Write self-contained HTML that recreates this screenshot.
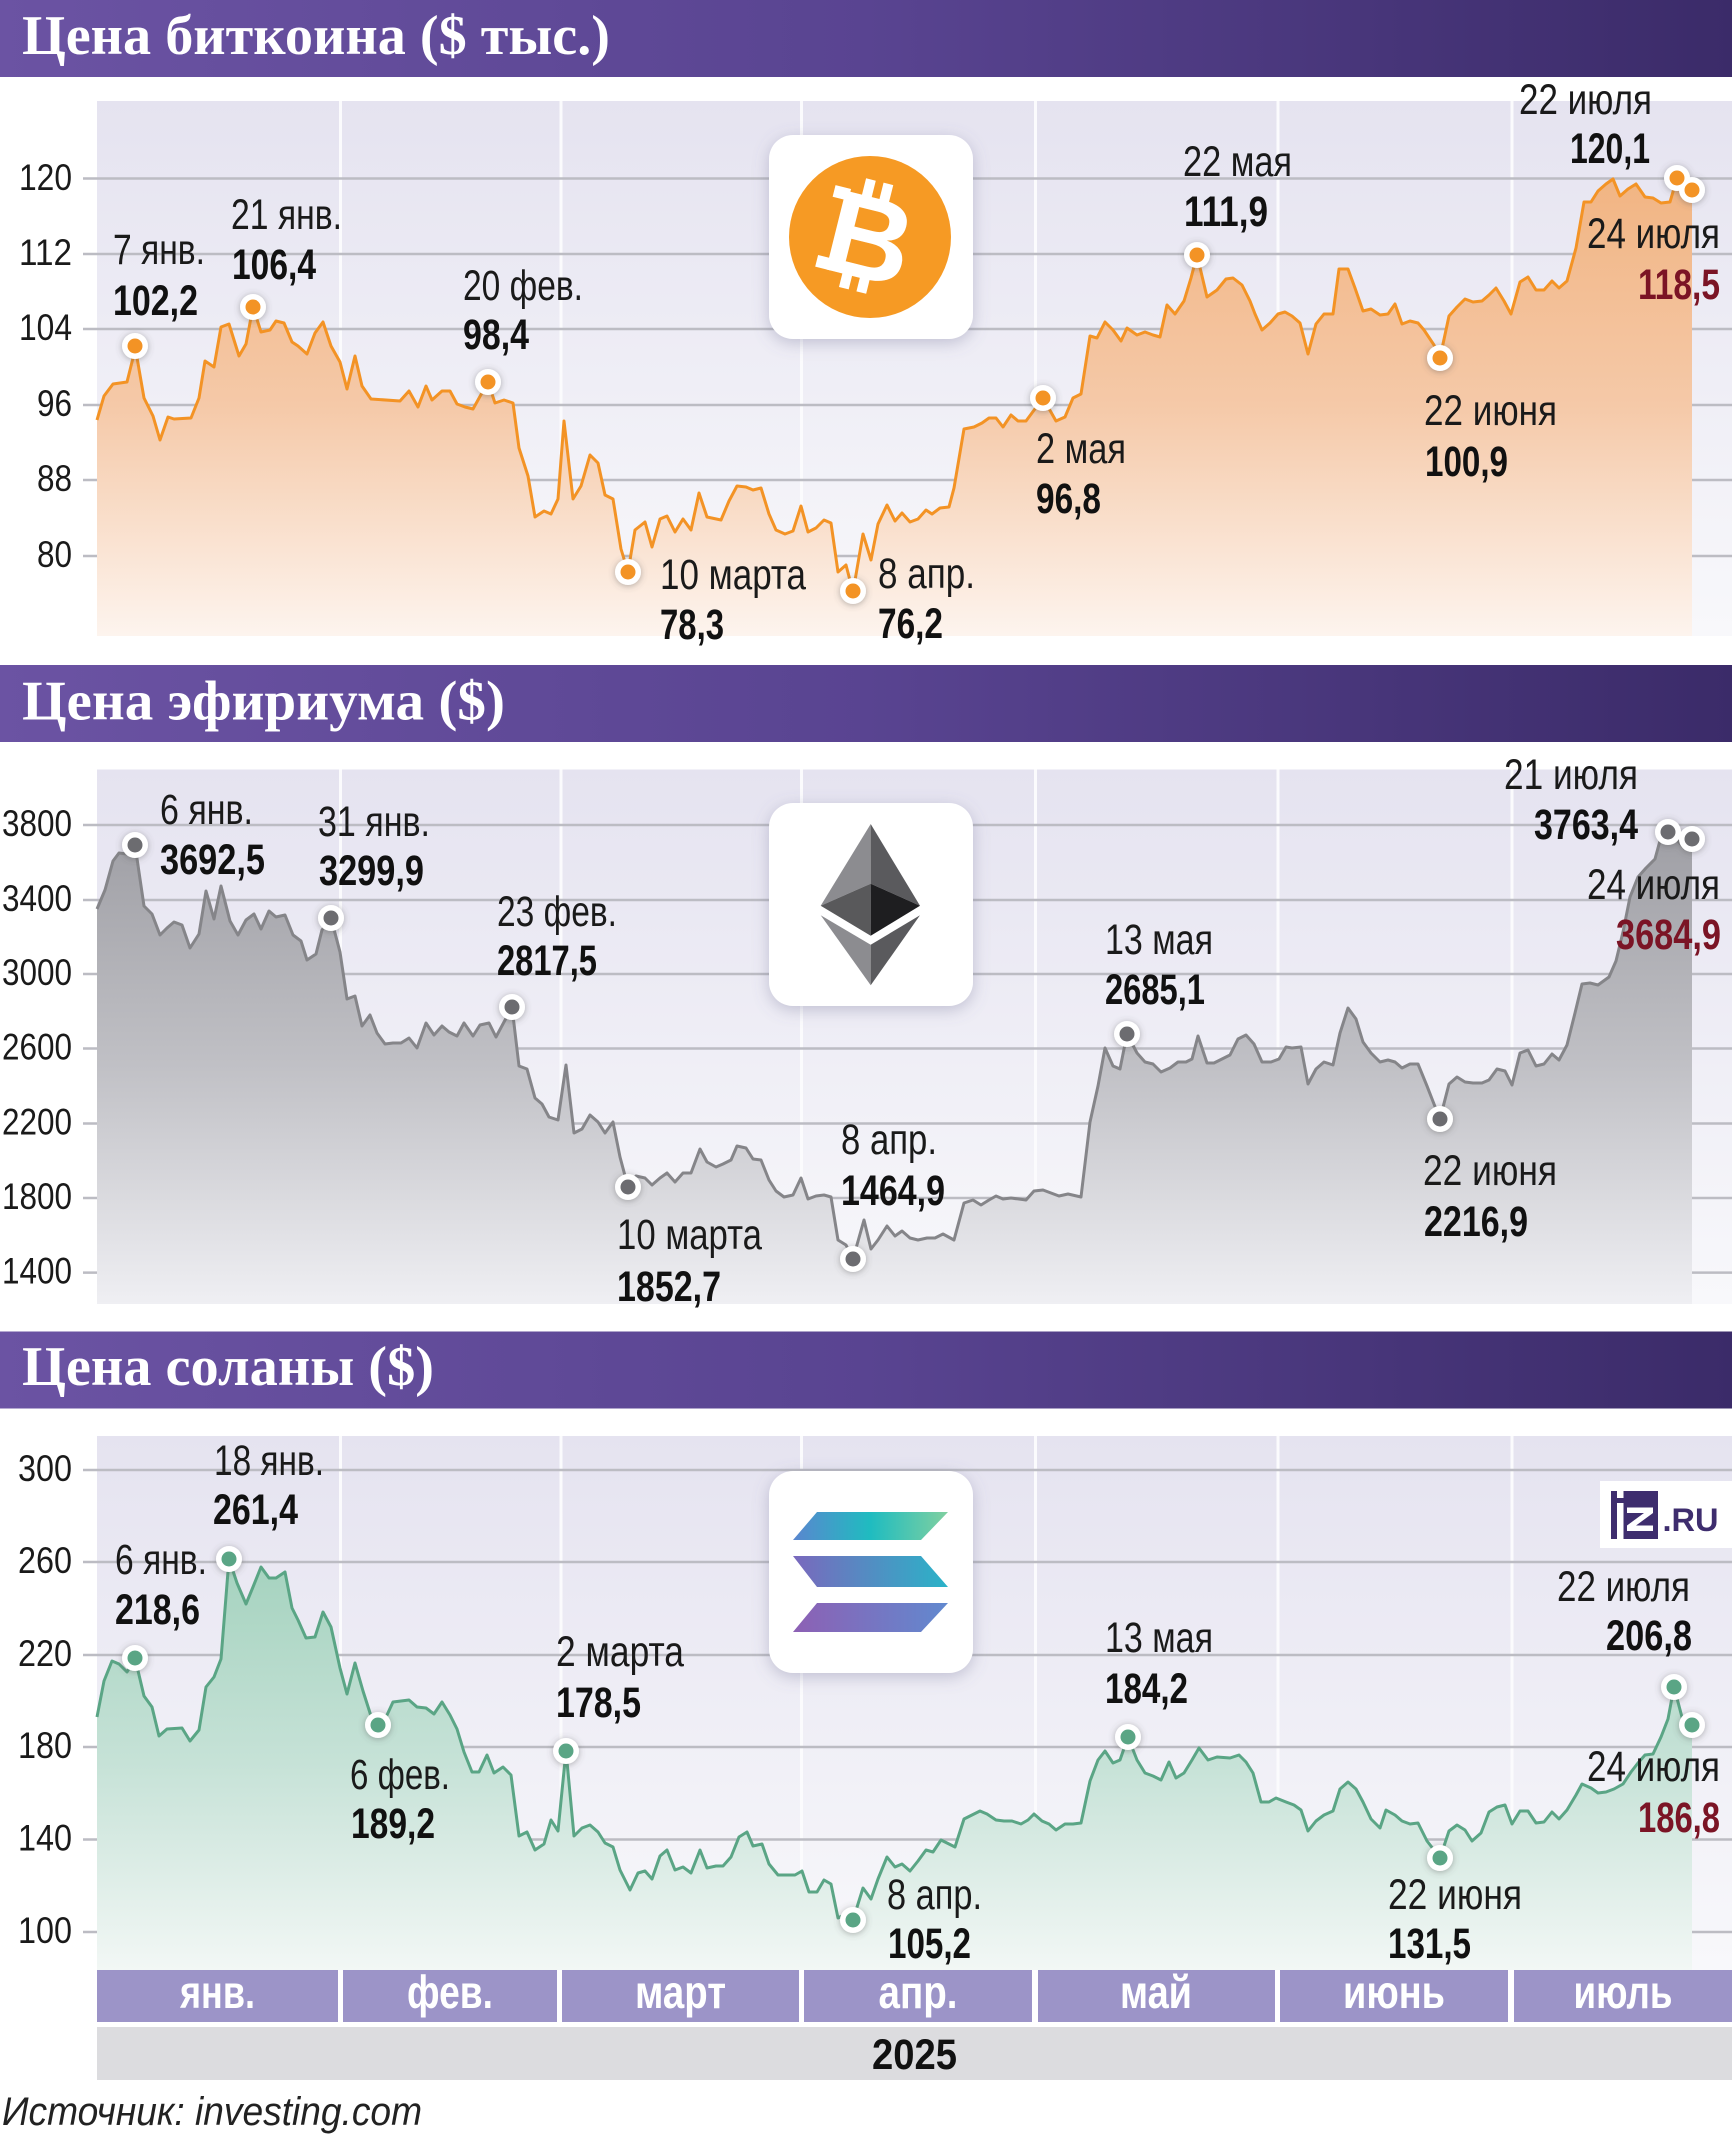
<!DOCTYPE html>
<html><head><meta charset="utf-8">
<style>
html,body{margin:0;padding:0;background:#fff;}
svg{display:block;}
.t{font-family:"Liberation Serif",serif;font-weight:bold;font-size:56px;fill:#fff;}
.l{font-family:"Liberation Sans Narrow","Liberation Sans",sans-serif;font-size:43px;fill:#1a1a1a;}
.v{font-family:"Liberation Sans Narrow","Liberation Sans",sans-serif;font-size:43px;font-weight:bold;fill:#111;}
.r{fill:#7b1425;}
.y{font-family:"Liberation Sans Narrow","Liberation Sans",sans-serif;font-size:37px;fill:#1a1a1a;}
.m{font-family:"Liberation Sans Narrow","Liberation Sans",sans-serif;font-size:46px;font-weight:bold;fill:#fff;}
.g{stroke:#bcbcc3;stroke-width:2.5;}
.w{stroke:#fbfbfd;stroke-width:3;}
</style></head>
<body>
<svg width="1732" height="2137" viewBox="0 0 1732 2137" xmlns="http://www.w3.org/2000/svg">
<defs>
<linearGradient id="hdr" x1="0" y1="0" x2="1" y2="0">
<stop offset="0" stop-color="#6b53a3"/><stop offset="0.5" stop-color="#594491"/><stop offset="1" stop-color="#3b2b69"/>
</linearGradient>
<linearGradient id="bg" x1="0" y1="0" x2="0" y2="1">
<stop offset="0" stop-color="#e5e3f0"/><stop offset="1" stop-color="#f8f8fb"/>
</linearGradient>
<linearGradient id="fb" gradientUnits="userSpaceOnUse" x1="0" y1="175" x2="0" y2="636">
<stop offset="0" stop-color="#f1b482"/><stop offset="0.5" stop-color="#f5c9a8"/><stop offset="1" stop-color="#fdf4ee"/>
</linearGradient>
<linearGradient id="fe" gradientUnits="userSpaceOnUse" x1="0" y1="825" x2="0" y2="1304">
<stop offset="0" stop-color="#9e9ea4"/><stop offset="0.5" stop-color="#c0c0c5"/><stop offset="1" stop-color="#efeff3"/>
</linearGradient>
<linearGradient id="fs" gradientUnits="userSpaceOnUse" x1="0" y1="1555" x2="0" y2="1970">
<stop offset="0" stop-color="#a4d2be"/><stop offset="0.5" stop-color="#c6e2d7"/><stop offset="1" stop-color="#f2f7f5"/>
</linearGradient>
<linearGradient id="s1" gradientUnits="userSpaceOnUse" x1="793" y1="0" x2="948" y2="0">
<stop offset="0" stop-color="#5a86cf"/><stop offset="0.5" stop-color="#1fbcc0"/><stop offset="1" stop-color="#80d0a0"/>
</linearGradient>
<linearGradient id="s2" gradientUnits="userSpaceOnUse" x1="793" y1="0" x2="948" y2="0">
<stop offset="0" stop-color="#7a68bd"/><stop offset="1" stop-color="#2ab3c8"/>
</linearGradient>
<linearGradient id="s3" gradientUnits="userSpaceOnUse" x1="793" y1="0" x2="948" y2="0">
<stop offset="0" stop-color="#8d60b4"/><stop offset="1" stop-color="#6189cf"/>
</linearGradient>
<filter id="sh" x="-20%" y="-20%" width="140%" height="140%">
<feDropShadow dx="0" dy="4" stdDeviation="8" flood-color="#6a6a90" flood-opacity="0.35"/>
</filter>
<filter id="ms" x="-60%" y="-60%" width="220%" height="220%">
<feDropShadow dx="0" dy="1" stdDeviation="3.5" flood-color="#555" flood-opacity="0.45"/>
</filter>
</defs>

<!-- ================= BITCOIN ================= -->
<rect x="0" y="0" width="1732" height="77" fill="url(#hdr)"/>
<text class="t" x="22" y="54" textLength="588" lengthAdjust="spacingAndGlyphs">Цена биткоина ($ тыс.)</text>
<rect x="97" y="101" width="1635" height="535" fill="url(#bg)"/>
<g class="w">
<line x1="340.5" y1="101" x2="340.5" y2="636"/><line x1="561" y1="101" x2="561" y2="636"/><line x1="801.5" y1="101" x2="801.5" y2="636"/>
<line x1="1035.5" y1="101" x2="1035.5" y2="636"/><line x1="1278" y1="101" x2="1278" y2="636"/><line x1="1512" y1="101" x2="1512" y2="636"/>
</g>
<g class="g">
<line x1="83" y1="178.5" x2="1732" y2="178.5"/><line x1="83" y1="254" x2="1732" y2="254"/><line x1="83" y1="329" x2="1732" y2="329"/>
<line x1="83" y1="405" x2="1732" y2="405"/><line x1="83" y1="480" x2="1732" y2="480"/><line x1="83" y1="556" x2="1732" y2="556"/>
</g>
<g class="y" text-anchor="end">
<text x="72" y="190" textLength="53" lengthAdjust="spacingAndGlyphs">120</text>
<text x="72" y="265" textLength="53" lengthAdjust="spacingAndGlyphs">112</text>
<text x="72" y="340" textLength="53" lengthAdjust="spacingAndGlyphs">104</text>
<text x="72" y="416" textLength="35" lengthAdjust="spacingAndGlyphs">96</text>
<text x="72" y="491" textLength="35" lengthAdjust="spacingAndGlyphs">88</text>
<text x="72" y="567" textLength="35" lengthAdjust="spacingAndGlyphs">80</text>
</g>
<path fill="url(#fb)" d="M97,636 L97,420 104,396 113,384 127,382 133,358 135,346 144,398 153,416 160,440 168,417 174,419 191,418 199,398 205,361 214,367 221,327 229,324 239,356 246,344 253,307 261,332 270,330 276,321 284,323 292,342 298,346 307,354 315,333 323,322 331,346 340,362 347,389 355,356 362,386 371,399 400,401 409,391 418,407 426,386 432,400 442,391 450,391 457,404 465,407 473,409 488,382 495,403 504,400 513,403 519,448 528,476 535,517 544,511 551,514 558,499 564,421 573,499 581,486 590,455 598,463 605,495 613,499 621,549 628,572 635,530 645,522 652,547 660,519 667,516 675,532 683,519 691,530 699,493 707,517 721,520 729,501 737,486 746,487 753,490 761,488 769,514 776,530 785,534 793,531 801,506 808,532 816,528 824,520 831,523 838,572 846,565 853,592 863,534 871,560 878,524 887,505 895,521 902,513 910,522 918,519 926,510 932,514 940,508 949,507 954,488 964,429 974,427 982,423 989,418 996,418 1003,427 1011,415 1018,421 1026,421 1043,398 1056,421 1065,417 1073,398 1081,394 1090,336 1097,338 1105,322 1113,330 1121,341 1127,328 1137,335 1145,332 1153,335 1160,337 1167,305 1175,314 1184,301 1191,278 1197,255 1207,297 1217,290 1226,279 1233,278 1242,285 1250,301 1255,314 1262,330 1270,323 1278,314 1285,312 1292,316 1300,323 1308,354 1316,324 1324,314 1333,314 1339,269 1348,269 1355,288 1363,311 1371,309 1380,315 1388,314 1395,304 1402,324 1410,321 1418,323 1424,330 1434,345 1440,358 1449,316 1457,307 1465,299 1473,302 1482,301 1489,295 1496,288 1504,301 1511,314 1520,282 1528,277 1536,290 1544,290 1552,281 1559,288 1567,281 1576,248 1584,202 1591,202 1598,191 1606,184 1613,179 1620,196 1628,189 1636,184 1645,197 1653,198 1661,203 1670,202 1677,178 1684,194 1692,190 L1692,636 Z"/>
<polyline fill="none" stroke="#f39325" stroke-width="3" stroke-linejoin="round" points="97,420 104,396 113,384 127,382 133,358 135,346 144,398 153,416 160,440 168,417 174,419 191,418 199,398 205,361 214,367 221,327 229,324 239,356 246,344 253,307 261,332 270,330 276,321 284,323 292,342 298,346 307,354 315,333 323,322 331,346 340,362 347,389 355,356 362,386 371,399 400,401 409,391 418,407 426,386 432,400 442,391 450,391 457,404 465,407 473,409 488,382 495,403 504,400 513,403 519,448 528,476 535,517 544,511 551,514 558,499 564,421 573,499 581,486 590,455 598,463 605,495 613,499 621,549 628,572 635,530 645,522 652,547 660,519 667,516 675,532 683,519 691,530 699,493 707,517 721,520 729,501 737,486 746,487 753,490 761,488 769,514 776,530 785,534 793,531 801,506 808,532 816,528 824,520 831,523 838,572 846,565 853,592 863,534 871,560 878,524 887,505 895,521 902,513 910,522 918,519 926,510 932,514 940,508 949,507 954,488 964,429 974,427 982,423 989,418 996,418 1003,427 1011,415 1018,421 1026,421 1043,398 1056,421 1065,417 1073,398 1081,394 1090,336 1097,338 1105,322 1113,330 1121,341 1127,328 1137,335 1145,332 1153,335 1160,337 1167,305 1175,314 1184,301 1191,278 1197,255 1207,297 1217,290 1226,279 1233,278 1242,285 1250,301 1255,314 1262,330 1270,323 1278,314 1285,312 1292,316 1300,323 1308,354 1316,324 1324,314 1333,314 1339,269 1348,269 1355,288 1363,311 1371,309 1380,315 1388,314 1395,304 1402,324 1410,321 1418,323 1424,330 1434,345 1440,358 1449,316 1457,307 1465,299 1473,302 1482,301 1489,295 1496,288 1504,301 1511,314 1520,282 1528,277 1536,290 1544,290 1552,281 1559,288 1567,281 1576,248 1584,202 1591,202 1598,191 1606,184 1613,179 1620,196 1628,189 1636,184 1645,197 1653,198 1661,203 1670,202 1677,178 1684,194 1692,190"/>
<!-- BTC logo -->
<rect x="769" y="135" width="204" height="204" rx="24" fill="#fff" filter="url(#sh)"/>
<circle cx="870" cy="237" r="81" fill="#f69a24"/>
<g transform="translate(870,237) rotate(14)" fill="#fff">
<rect x="-18" y="-56" width="10" height="18"/><rect x="0" y="-56" width="10" height="18"/>
<rect x="-18" y="38" width="10" height="18"/><rect x="0" y="38" width="10" height="18"/>
<rect x="-46" y="-42" width="16" height="12"/><rect x="-46" y="30" width="16" height="12"/>
<text x="0" y="42" font-family="Liberation Sans,sans-serif" font-weight="bold" font-size="118" text-anchor="middle">B</text>
</g>
<!-- BTC markers -->
<g filter="url(#ms)" fill="#fff">
<circle cx="135" cy="346" r="13"/><circle cx="253" cy="307" r="13"/><circle cx="488" cy="382" r="13"/><circle cx="628" cy="572" r="13"/><circle cx="853" cy="591" r="13"/><circle cx="1043" cy="398" r="13"/><circle cx="1197" cy="255" r="13"/><circle cx="1440" cy="358" r="13"/><circle cx="1677" cy="178" r="13"/><circle cx="1692" cy="190" r="13"/>
</g>
<g fill="#f39325">
<circle cx="135" cy="346" r="7.5"/><circle cx="253" cy="307" r="7.5"/><circle cx="488" cy="382" r="7.5"/><circle cx="628" cy="572" r="7.5"/><circle cx="853" cy="591" r="7.5"/><circle cx="1043" cy="398" r="7.5"/><circle cx="1197" cy="255" r="7.5"/><circle cx="1440" cy="358" r="7.5"/><circle cx="1677" cy="178" r="7.5"/><circle cx="1692" cy="190" r="7.5"/>
</g>
<!-- BTC labels -->
<text class="l" x="113" y="264" textLength="92" lengthAdjust="spacingAndGlyphs">7 янв.</text>
<text class="v" x="113" y="315" textLength="85" lengthAdjust="spacingAndGlyphs">102,2</text>
<text class="l" x="231" y="229" textLength="111" lengthAdjust="spacingAndGlyphs">21 янв.</text>
<text class="v" x="232" y="279" textLength="84" lengthAdjust="spacingAndGlyphs">106,4</text>
<text class="l" x="463" y="300" textLength="120" lengthAdjust="spacingAndGlyphs">20 фев.</text>
<text class="v" x="463" y="349" textLength="66" lengthAdjust="spacingAndGlyphs">98,4</text>
<text class="l" x="660" y="589" textLength="146" lengthAdjust="spacingAndGlyphs">10 марта</text>
<text class="v" x="660" y="639" textLength="64" lengthAdjust="spacingAndGlyphs">78,3</text>
<text class="l" x="878" y="588" textLength="97" lengthAdjust="spacingAndGlyphs">8 апр.</text>
<text class="v" x="878" y="638" textLength="65" lengthAdjust="spacingAndGlyphs">76,2</text>
<text class="l" x="1036" y="463" textLength="90" lengthAdjust="spacingAndGlyphs">2 мая</text>
<text class="v" x="1036" y="513" textLength="65" lengthAdjust="spacingAndGlyphs">96,8</text>
<text class="l" x="1183" y="176" textLength="109" lengthAdjust="spacingAndGlyphs">22 мая</text>
<text class="v" x="1184" y="226" textLength="84" lengthAdjust="spacingAndGlyphs">111,9</text>
<text class="l" x="1424" y="425" textLength="133" lengthAdjust="spacingAndGlyphs">22 июня</text>
<text class="v" x="1425" y="476" textLength="83" lengthAdjust="spacingAndGlyphs">100,9</text>
<text class="l" x="1519" y="114" textLength="133" lengthAdjust="spacingAndGlyphs">22 июля</text>
<text class="v" x="1570" y="163" textLength="80" lengthAdjust="spacingAndGlyphs">120,1</text>
<text class="l" x="1587" y="248" textLength="133" lengthAdjust="spacingAndGlyphs">24 июля</text>
<text class="v r" x="1638" y="299" textLength="82" lengthAdjust="spacingAndGlyphs">118,5</text>

<!-- ================= ETHEREUM ================= -->
<rect x="0" y="665" width="1732" height="77" fill="url(#hdr)"/>
<text class="t" x="22" y="719.5" textLength="483" lengthAdjust="spacingAndGlyphs">Цена эфириума ($)</text>
<rect x="97" y="769.5" width="1635" height="534.5" fill="url(#bg)"/>
<g class="w">
<line x1="340.5" y1="769.5" x2="340.5" y2="1304"/><line x1="561" y1="769.5" x2="561" y2="1304"/><line x1="801.5" y1="769.5" x2="801.5" y2="1304"/>
<line x1="1035.5" y1="769.5" x2="1035.5" y2="1304"/><line x1="1278" y1="769.5" x2="1278" y2="1304"/><line x1="1512" y1="769.5" x2="1512" y2="1304"/>
</g>
<g class="g">
<line x1="83" y1="825" x2="1732" y2="825"/><line x1="83" y1="900" x2="1732" y2="900"/><line x1="83" y1="974" x2="1732" y2="974"/>
<line x1="83" y1="1048.5" x2="1732" y2="1048.5"/><line x1="83" y1="1123.5" x2="1732" y2="1123.5"/><line x1="83" y1="1198" x2="1732" y2="1198"/><line x1="83" y1="1272.6" x2="1732" y2="1272.6"/>
</g>
<g class="y" text-anchor="end">
<text x="72" y="836" textLength="70" lengthAdjust="spacingAndGlyphs">3800</text>
<text x="72" y="911" textLength="70" lengthAdjust="spacingAndGlyphs">3400</text>
<text x="72" y="985" textLength="70" lengthAdjust="spacingAndGlyphs">3000</text>
<text x="72" y="1059.5" textLength="70" lengthAdjust="spacingAndGlyphs">2600</text>
<text x="72" y="1134.5" textLength="70" lengthAdjust="spacingAndGlyphs">2200</text>
<text x="72" y="1209" textLength="70" lengthAdjust="spacingAndGlyphs">1800</text>
<text x="72" y="1283.6" textLength="70" lengthAdjust="spacingAndGlyphs">1400</text>
</g>
<path fill="url(#fe)" d="M97,1304 L97,909 105,890 113,861 119,853 127,854 135,845 144,906 152,914 160,935 167,928 174,922 182,925 190,948 199,934 206,891 214,919 221,886 230,921 238,935 246,920 254,914 261,929 269,911 276,917 285,915 293,935 301,941 307,960 316,954 322,930 331,918 340,952 347,999 355,996 362,1026 370,1015 377,1033 385,1044 393,1043 401,1043 409,1038 417,1048 426,1023 434,1035 442,1026 449,1032 457,1036 464,1023 473,1036 480,1025 489,1023 496,1037 512,1007 519,1066 527,1069 535,1098 542,1104 549,1117 558,1120 566,1065 574,1133 582,1129 590,1115 598,1122 605,1133 613,1122 620,1157 628,1187 636,1176 645,1178 652,1185 660,1178 667,1173 675,1182 683,1173 691,1173 700,1149 707,1162 716,1167 723,1164 731,1160 737,1146 746,1148 753,1159 761,1160 769,1180 776,1191 784,1197 793,1195 801,1178 808,1199 816,1196 824,1195 831,1197 838,1240 846,1245 853,1259 864,1220 871,1249 878,1240 887,1226 895,1236 902,1231 910,1238 918,1240 927,1238 935,1238 943,1234 954,1240 964,1203 973,1200 981,1205 989,1200 996,1196 1003,1199 1011,1198 1026,1200 1034,1191 1043,1190 1051,1193 1059,1196 1068,1194 1081,1197 1090,1122 1098,1086 1105,1048 1113,1066 1120,1069 1127,1034 1137,1053 1145,1062 1153,1064 1161,1072 1170,1068 1178,1062 1186,1062 1192,1059 1198,1036 1207,1063 1214,1063 1222,1059 1230,1055 1238,1039 1246,1035 1254,1044 1262,1062 1271,1062 1279,1059 1286,1047 1292,1048 1301,1047 1308,1084 1316,1069 1324,1062 1333,1065 1340,1033 1348,1008 1356,1019 1363,1042 1371,1053 1380,1062 1388,1060 1395,1062 1402,1068 1410,1064 1418,1064 1427,1086 1434,1104 1440,1119 1449,1084 1457,1077 1465,1082 1473,1083 1482,1083 1489,1080 1497,1069 1505,1071 1512,1085 1520,1053 1528,1050 1536,1066 1544,1064 1552,1054 1559,1060 1567,1045 1575,1013 1582,984 1590,983 1598,985 1609,977 1616,961 1623,932 1630,897 1638,877 1646,868 1655,859 1661,837 1668,832 1677,840 1684,848 1692,839 L1692,1304 Z"/>
<polyline fill="none" stroke="#858589" stroke-width="3" stroke-linejoin="round" points="97,909 105,890 113,861 119,853 127,854 135,845 144,906 152,914 160,935 167,928 174,922 182,925 190,948 199,934 206,891 214,919 221,886 230,921 238,935 246,920 254,914 261,929 269,911 276,917 285,915 293,935 301,941 307,960 316,954 322,930 331,918 340,952 347,999 355,996 362,1026 370,1015 377,1033 385,1044 393,1043 401,1043 409,1038 417,1048 426,1023 434,1035 442,1026 449,1032 457,1036 464,1023 473,1036 480,1025 489,1023 496,1037 512,1007 519,1066 527,1069 535,1098 542,1104 549,1117 558,1120 566,1065 574,1133 582,1129 590,1115 598,1122 605,1133 613,1122 620,1157 628,1187 636,1176 645,1178 652,1185 660,1178 667,1173 675,1182 683,1173 691,1173 700,1149 707,1162 716,1167 723,1164 731,1160 737,1146 746,1148 753,1159 761,1160 769,1180 776,1191 784,1197 793,1195 801,1178 808,1199 816,1196 824,1195 831,1197 838,1240 846,1245 853,1259 864,1220 871,1249 878,1240 887,1226 895,1236 902,1231 910,1238 918,1240 927,1238 935,1238 943,1234 954,1240 964,1203 973,1200 981,1205 989,1200 996,1196 1003,1199 1011,1198 1026,1200 1034,1191 1043,1190 1051,1193 1059,1196 1068,1194 1081,1197 1090,1122 1098,1086 1105,1048 1113,1066 1120,1069 1127,1034 1137,1053 1145,1062 1153,1064 1161,1072 1170,1068 1178,1062 1186,1062 1192,1059 1198,1036 1207,1063 1214,1063 1222,1059 1230,1055 1238,1039 1246,1035 1254,1044 1262,1062 1271,1062 1279,1059 1286,1047 1292,1048 1301,1047 1308,1084 1316,1069 1324,1062 1333,1065 1340,1033 1348,1008 1356,1019 1363,1042 1371,1053 1380,1062 1388,1060 1395,1062 1402,1068 1410,1064 1418,1064 1427,1086 1434,1104 1440,1119 1449,1084 1457,1077 1465,1082 1473,1083 1482,1083 1489,1080 1497,1069 1505,1071 1512,1085 1520,1053 1528,1050 1536,1066 1544,1064 1552,1054 1559,1060 1567,1045 1575,1013 1582,984 1590,983 1598,985 1609,977 1616,961 1623,932 1630,897 1638,877 1646,868 1655,859 1661,837 1668,832 1677,840 1684,848 1692,839"/>
<!-- ETH logo -->
<rect x="769" y="803" width="204" height="203" rx="24" fill="#fff" filter="url(#sh)"/>
<polygon points="870.7,824 820.7,905.7 870.7,883.7" fill="#8c8c90"/>
<polygon points="870.7,824 920,905.7 870.7,883.7" fill="#5a5a5d"/>
<polygon points="820.7,905.7 870.7,883.7 870.7,935.7" fill="#59595b"/>
<polygon points="920,905.7 870.7,883.7 870.7,935.7" fill="#1e1e20"/>
<polygon points="820.7,915.3 870.7,944.7 870.7,985.3" fill="#8c8c90"/>
<polygon points="920,915.3 870.7,944.7 870.7,985.3" fill="#5a5a5d"/>
<!-- ETH markers -->
<g filter="url(#ms)" fill="#fff">
<circle cx="135" cy="845" r="13"/><circle cx="331" cy="918" r="13"/><circle cx="512" cy="1007" r="13"/><circle cx="628" cy="1187" r="13"/><circle cx="853" cy="1259" r="13"/><circle cx="1127" cy="1034" r="13"/><circle cx="1440" cy="1119" r="13"/><circle cx="1668" cy="832" r="13"/><circle cx="1692" cy="839" r="13"/>
</g>
<g fill="#6c6c70">
<circle cx="135" cy="845" r="7.5"/><circle cx="331" cy="918" r="7.5"/><circle cx="512" cy="1007" r="7.5"/><circle cx="628" cy="1187" r="7.5"/><circle cx="853" cy="1259" r="7.5"/><circle cx="1127" cy="1034" r="7.5"/><circle cx="1440" cy="1119" r="7.5"/><circle cx="1668" cy="832" r="7.5"/><circle cx="1692" cy="839" r="7.5"/>
</g>
<!-- ETH labels -->
<text class="l" x="160" y="824" textLength="93" lengthAdjust="spacingAndGlyphs">6 янв.</text>
<text class="v" x="160" y="874" textLength="105" lengthAdjust="spacingAndGlyphs">3692,5</text>
<text class="l" x="318" y="836" textLength="112" lengthAdjust="spacingAndGlyphs">31 янв.</text>
<text class="v" x="319" y="885" textLength="105" lengthAdjust="spacingAndGlyphs">3299,9</text>
<text class="l" x="497" y="926" textLength="120" lengthAdjust="spacingAndGlyphs">23 фев.</text>
<text class="v" x="497" y="975" textLength="100" lengthAdjust="spacingAndGlyphs">2817,5</text>
<text class="l" x="617" y="1249" textLength="145" lengthAdjust="spacingAndGlyphs">10 марта</text>
<text class="v" x="617" y="1301" textLength="104" lengthAdjust="spacingAndGlyphs">1852,7</text>
<text class="l" x="841" y="1154" textLength="96" lengthAdjust="spacingAndGlyphs">8 апр.</text>
<text class="v" x="841" y="1205" textLength="104" lengthAdjust="spacingAndGlyphs">1464,9</text>
<text class="l" x="1105" y="954" textLength="108" lengthAdjust="spacingAndGlyphs">13 мая</text>
<text class="v" x="1105" y="1004" textLength="100" lengthAdjust="spacingAndGlyphs">2685,1</text>
<text class="l" x="1423" y="1185" textLength="134" lengthAdjust="spacingAndGlyphs">22 июня</text>
<text class="v" x="1424" y="1236" textLength="104" lengthAdjust="spacingAndGlyphs">2216,9</text>
<text class="l" x="1504" y="789" textLength="134" lengthAdjust="spacingAndGlyphs">21 июля</text>
<text class="v" x="1534" y="839" textLength="104" lengthAdjust="spacingAndGlyphs">3763,4</text>
<text class="l" x="1587" y="899" textLength="133" lengthAdjust="spacingAndGlyphs">24 июля</text>
<text class="v r" x="1616" y="949" textLength="105" lengthAdjust="spacingAndGlyphs">3684,9</text>

<!-- ================= SOLANA ================= -->
<rect x="0" y="1331.5" width="1732" height="77" fill="url(#hdr)"/>
<text class="t" x="22" y="1385" textLength="412" lengthAdjust="spacingAndGlyphs">Цена соланы ($)</text>
<rect x="97" y="1436" width="1635" height="534" fill="url(#bg)"/>
<g class="w">
<line x1="340.5" y1="1436" x2="340.5" y2="1970"/><line x1="561" y1="1436" x2="561" y2="1970"/><line x1="801.5" y1="1436" x2="801.5" y2="1970"/>
<line x1="1035.5" y1="1436" x2="1035.5" y2="1970"/><line x1="1278" y1="1436" x2="1278" y2="1970"/><line x1="1512" y1="1436" x2="1512" y2="1970"/>
</g>
<g class="g">
<line x1="83" y1="1470" x2="1732" y2="1470"/><line x1="83" y1="1562" x2="1732" y2="1562"/><line x1="83" y1="1655" x2="1732" y2="1655"/>
<line x1="83" y1="1747" x2="1732" y2="1747"/><line x1="83" y1="1839.5" x2="1732" y2="1839.5"/><line x1="83" y1="1932" x2="1732" y2="1932"/>
</g>
<g class="y" text-anchor="end">
<text x="72" y="1481" textLength="54" lengthAdjust="spacingAndGlyphs">300</text>
<text x="72" y="1573" textLength="54" lengthAdjust="spacingAndGlyphs">260</text>
<text x="72" y="1666" textLength="54" lengthAdjust="spacingAndGlyphs">220</text>
<text x="72" y="1758" textLength="54" lengthAdjust="spacingAndGlyphs">180</text>
<text x="72" y="1850.5" textLength="54" lengthAdjust="spacingAndGlyphs">140</text>
<text x="72" y="1943" textLength="54" lengthAdjust="spacingAndGlyphs">100</text>
</g>
<path fill="url(#fs)" d="M97,1970 L97,1717 104,1681 112,1661 119,1664 127,1672 135,1658 144,1696 152,1707 159,1736 167,1729 182,1728 190,1741 199,1730 206,1687 214,1677 221,1659 229,1559 237,1583 246,1604 253,1587 261,1567 269,1578 276,1578 285,1572 292,1608 298,1620 306,1638 315,1637 323,1612 331,1627 340,1668 347,1694 355,1663 363,1691 371,1716 378,1725 387,1715 393,1702 409,1700 417,1707 426,1708 434,1714 442,1702 450,1715 457,1729 464,1752 472,1772 479,1772 487,1755 494,1773 503,1767 511,1775 519,1836 527,1832 535,1850 544,1844 551,1820 558,1831 566,1751 574,1836 582,1828 590,1825 598,1832 605,1843 613,1847 620,1870 630,1890 638,1873 645,1871 652,1879 660,1856 667,1850 675,1870 683,1867 691,1873 700,1850 707,1868 716,1866 723,1866 731,1857 739,1837 747,1832 753,1846 762,1844 769,1864 778,1875 795,1875 802,1871 809,1892 817,1892 824,1880 831,1884 838,1918 846,1914 853,1920 863,1888 871,1899 878,1879 887,1857 895,1867 902,1864 910,1871 918,1861 926,1850 933,1852 941,1840 949,1844 955,1847 964,1819 972,1815 980,1811 987,1814 996,1820 1004,1821 1012,1821 1021,1824 1028,1820 1034,1814 1042,1821 1049,1824 1056,1830 1065,1824 1073,1824 1081,1823 1090,1781 1098,1760 1105,1751 1113,1763 1120,1760 1128,1737 1137,1760 1145,1773 1153,1776 1161,1780 1169,1762 1176,1778 1184,1773 1192,1760 1199,1748 1208,1760 1217,1757 1230,1758 1239,1755 1246,1762 1253,1773 1261,1802 1269,1802 1276,1798 1286,1802 1294,1805 1301,1810 1308,1831 1316,1821 1324,1815 1333,1811 1340,1789 1348,1782 1356,1789 1363,1802 1371,1819 1380,1828 1386,1810 1395,1815 1402,1821 1410,1824 1418,1823 1427,1841 1434,1850 1440,1858 1449,1831 1457,1825 1465,1830 1472,1841 1481,1833 1489,1812 1497,1807 1505,1805 1512,1824 1520,1811 1528,1811 1536,1823 1544,1822 1552,1812 1559,1819 1567,1810 1576,1795 1582,1784 1591,1788 1598,1793 1606,1792 1614,1789 1623,1784 1631,1772 1638,1763 1645,1755 1653,1754 1661,1737 1668,1719 1674,1687 1683,1721 1692,1725 L1692,1970 Z"/>
<polyline fill="none" stroke="#5aa585" stroke-width="3" stroke-linejoin="round" points="97,1717 104,1681 112,1661 119,1664 127,1672 135,1658 144,1696 152,1707 159,1736 167,1729 182,1728 190,1741 199,1730 206,1687 214,1677 221,1659 229,1559 237,1583 246,1604 253,1587 261,1567 269,1578 276,1578 285,1572 292,1608 298,1620 306,1638 315,1637 323,1612 331,1627 340,1668 347,1694 355,1663 363,1691 371,1716 378,1725 387,1715 393,1702 409,1700 417,1707 426,1708 434,1714 442,1702 450,1715 457,1729 464,1752 472,1772 479,1772 487,1755 494,1773 503,1767 511,1775 519,1836 527,1832 535,1850 544,1844 551,1820 558,1831 566,1751 574,1836 582,1828 590,1825 598,1832 605,1843 613,1847 620,1870 630,1890 638,1873 645,1871 652,1879 660,1856 667,1850 675,1870 683,1867 691,1873 700,1850 707,1868 716,1866 723,1866 731,1857 739,1837 747,1832 753,1846 762,1844 769,1864 778,1875 795,1875 802,1871 809,1892 817,1892 824,1880 831,1884 838,1918 846,1914 853,1920 863,1888 871,1899 878,1879 887,1857 895,1867 902,1864 910,1871 918,1861 926,1850 933,1852 941,1840 949,1844 955,1847 964,1819 972,1815 980,1811 987,1814 996,1820 1004,1821 1012,1821 1021,1824 1028,1820 1034,1814 1042,1821 1049,1824 1056,1830 1065,1824 1073,1824 1081,1823 1090,1781 1098,1760 1105,1751 1113,1763 1120,1760 1128,1737 1137,1760 1145,1773 1153,1776 1161,1780 1169,1762 1176,1778 1184,1773 1192,1760 1199,1748 1208,1760 1217,1757 1230,1758 1239,1755 1246,1762 1253,1773 1261,1802 1269,1802 1276,1798 1286,1802 1294,1805 1301,1810 1308,1831 1316,1821 1324,1815 1333,1811 1340,1789 1348,1782 1356,1789 1363,1802 1371,1819 1380,1828 1386,1810 1395,1815 1402,1821 1410,1824 1418,1823 1427,1841 1434,1850 1440,1858 1449,1831 1457,1825 1465,1830 1472,1841 1481,1833 1489,1812 1497,1807 1505,1805 1512,1824 1520,1811 1528,1811 1536,1823 1544,1822 1552,1812 1559,1819 1567,1810 1576,1795 1582,1784 1591,1788 1598,1793 1606,1792 1614,1789 1623,1784 1631,1772 1638,1763 1645,1755 1653,1754 1661,1737 1668,1719 1674,1687 1683,1721 1692,1725"/>
<!-- SOL logo -->
<rect x="769" y="1471" width="204" height="202" rx="24" fill="#fff" filter="url(#sh)"/>
<polygon points="817,1512 948,1512 921,1540 793,1540" fill="url(#s1)"/>
<polygon points="793,1556 921,1556 948,1587 817,1587" fill="url(#s2)"/>
<polygon points="817,1603 948,1603 921,1632 793,1632" fill="url(#s3)"/>
<!-- iz.ru -->
<rect x="1600" y="1481" width="132" height="67" fill="#fff"/>
<rect x="1611" y="1491" width="47" height="48" fill="#3e2d6e"/>
<rect x="1617" y="1503" width="6.5" height="36" fill="#fff"/>
<rect x="1617" y="1491" width="6.5" height="7" fill="#fff"/>
<polygon points="1627,1507.5 1653,1507.5 1653,1513 1636,1525.5 1653,1525.5 1653,1531 1627,1531 1627,1525.5 1644,1513 1627,1513" fill="#fff"/>
<text x="1662.5" y="1531" font-family="Liberation Sans,sans-serif" font-weight="bold" font-size="32" fill="#3e2d6e" textLength="56" lengthAdjust="spacingAndGlyphs">.RU</text>
<!-- SOL markers -->
<g filter="url(#ms)" fill="#fff">
<circle cx="135" cy="1658" r="13"/><circle cx="229" cy="1559" r="13"/><circle cx="378" cy="1725" r="13"/><circle cx="566" cy="1751" r="13"/><circle cx="853" cy="1920" r="13"/><circle cx="1128" cy="1737" r="13"/><circle cx="1440" cy="1858" r="13"/><circle cx="1674" cy="1687" r="13"/><circle cx="1692" cy="1725" r="13"/>
</g>
<g fill="#5aa585">
<circle cx="135" cy="1658" r="7.5"/><circle cx="229" cy="1559" r="7.5"/><circle cx="378" cy="1725" r="7.5"/><circle cx="566" cy="1751" r="7.5"/><circle cx="853" cy="1920" r="7.5"/><circle cx="1128" cy="1737" r="7.5"/><circle cx="1440" cy="1858" r="7.5"/><circle cx="1674" cy="1687" r="7.5"/><circle cx="1692" cy="1725" r="7.5"/>
</g>
<!-- SOL labels -->
<text class="l" x="115" y="1574" textLength="92" lengthAdjust="spacingAndGlyphs">6 янв.</text>
<text class="v" x="115" y="1624" textLength="85" lengthAdjust="spacingAndGlyphs">218,6</text>
<text class="l" x="214" y="1475" textLength="110" lengthAdjust="spacingAndGlyphs">18 янв.</text>
<text class="v" x="213" y="1524" textLength="85" lengthAdjust="spacingAndGlyphs">261,4</text>
<text class="l" x="350" y="1789" textLength="100" lengthAdjust="spacingAndGlyphs">6 фев.</text>
<text class="v" x="351" y="1838" textLength="84" lengthAdjust="spacingAndGlyphs">189,2</text>
<text class="l" x="556" y="1666" textLength="128" lengthAdjust="spacingAndGlyphs">2 марта</text>
<text class="v" x="556" y="1717" textLength="85" lengthAdjust="spacingAndGlyphs">178,5</text>
<text class="l" x="887" y="1909" textLength="95" lengthAdjust="spacingAndGlyphs">8 апр.</text>
<text class="v" x="888" y="1958" textLength="83" lengthAdjust="spacingAndGlyphs">105,2</text>
<text class="l" x="1105" y="1652" textLength="108" lengthAdjust="spacingAndGlyphs">13 мая</text>
<text class="v" x="1105" y="1703" textLength="83" lengthAdjust="spacingAndGlyphs">184,2</text>
<text class="l" x="1388" y="1909" textLength="134" lengthAdjust="spacingAndGlyphs">22 июня</text>
<text class="v" x="1388" y="1958" textLength="83" lengthAdjust="spacingAndGlyphs">131,5</text>
<text class="l" x="1557" y="1601" textLength="133" lengthAdjust="spacingAndGlyphs">22 июля</text>
<text class="v" x="1606" y="1650" textLength="86" lengthAdjust="spacingAndGlyphs">206,8</text>
<text class="l" x="1587" y="1781" textLength="133" lengthAdjust="spacingAndGlyphs">24 июля</text>
<text class="v r" x="1638" y="1832" textLength="82" lengthAdjust="spacingAndGlyphs">186,8</text>

<!-- month bar -->
<g fill="#9c94c8">
<rect x="97" y="1970" width="241" height="52"/><rect x="343" y="1970" width="214" height="52"/><rect x="562" y="1970" width="237" height="52"/>
<rect x="804" y="1970" width="228" height="52"/><rect x="1038" y="1970" width="237" height="52"/><rect x="1280" y="1970" width="228" height="52"/><rect x="1514" y="1970" width="218" height="52"/>
</g>
<g class="m" text-anchor="middle">
<text x="217.5" y="2008" textLength="75" lengthAdjust="spacingAndGlyphs">янв.</text>
<text x="450" y="2008" textLength="86" lengthAdjust="spacingAndGlyphs">фев.</text>
<text x="680.5" y="2008" textLength="91" lengthAdjust="spacingAndGlyphs">март</text>
<text x="918" y="2008" textLength="79" lengthAdjust="spacingAndGlyphs">апр.</text>
<text x="1156" y="2008" textLength="72" lengthAdjust="spacingAndGlyphs">май</text>
<text x="1394" y="2008" textLength="102" lengthAdjust="spacingAndGlyphs">июнь</text>
<text x="1623" y="2008" textLength="99" lengthAdjust="spacingAndGlyphs">июль</text>
</g>
<rect x="97" y="2027" width="1635" height="53" fill="#dcdcdf"/>
<text x="914.5" y="2069" text-anchor="middle" font-family="Liberation Sans Narrow,Liberation Sans,sans-serif" font-weight="bold" font-size="43" fill="#111" textLength="85" lengthAdjust="spacingAndGlyphs">2025</text>
<text x="2" y="2125" font-family="Liberation Sans,sans-serif" font-style="italic" font-size="40" fill="#222" textLength="420" lengthAdjust="spacingAndGlyphs">Источник: investing.com</text>
</svg>
</body></html>
